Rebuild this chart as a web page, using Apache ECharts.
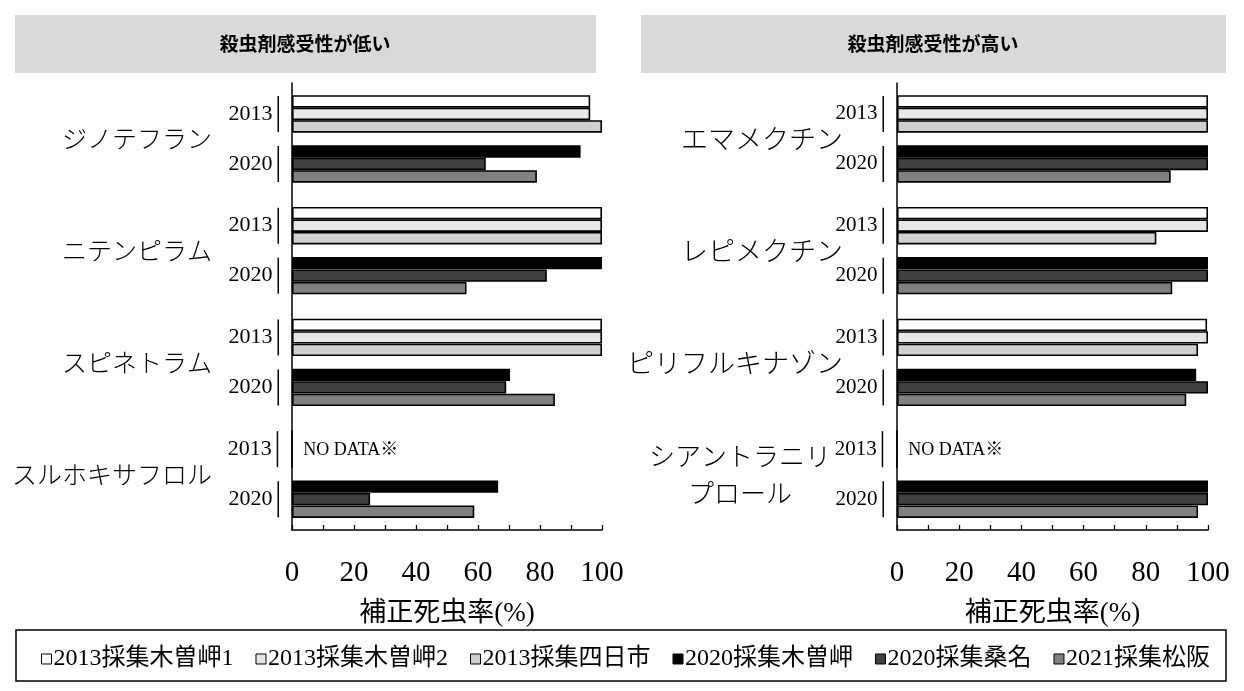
<!DOCTYPE html>
<html><head><meta charset="utf-8">
<script src="https://cdn.jsdelivr.net/npm/echarts@6/dist/echarts.min.js"></script>
<style>html,body{margin:0;padding:0;background:#fff}#c{width:1244px;height:691px}</style>
</head><body><div id="c"></div>
<script>
const panelTitles = ['殺虫剤感受性が低い', '殺虫剤感受性が高い'];
const drugsLow = ['ジノテフラン', 'ニテンピラム', 'スピネトラム', 'スルホキサフロル'];
const drugsHigh = ['エマメクチン', 'レピメクチン', 'ピリフルキナゾン', 'シアントラニリ\nプロール'];
const seriesNames = ['2013採集木曽岬1', '2013採集木曽岬2', '2013採集四日市', '2020採集木曽岬', '2020採集桑名', '2021採集松阪'];
const yearLabels = ['2013', '2020'];
const xTickLabels = [0, 20, 40, 60, 80, 100];
const noDataText = 'NO DATA※';
const axisTitle = '補正死虫率(%)';

// 殺虫剤感受性が低い
const low_kisozaki1_2013 = [96.2, 100, 100, null];
const low_kisozaki2_2013 = [96.2, 100, 100, null];
const low_yokkaichi_2013 = [100, 100, 100, null];
const low_kisozaki_2020 = [93.1, 100, 70.3, 66.5];
const low_kuwana_2020 = [62.5, 82.2, 69.1, 25.2];
const low_matsusaka_2021 = [79.0, 56.3, 84.8, 58.8];
// 殺虫剤感受性が高い
const high_kisozaki1_2013 = [100, 100, 99.7, null];
const high_kisozaki2_2013 = [100, 100, 100, null];
const high_yokkaichi_2013 = [100, 83.4, 96.8, null];
const high_kisozaki_2020 = [100, 100, 96.2, 100];
const high_kuwana_2020 = [100, 100, 100, 100];
const high_matsusaka_2021 = [88.0, 88.5, 93.0, 96.8];

const lowSeries = [low_kisozaki1_2013, low_kisozaki2_2013, low_yokkaichi_2013, low_kisozaki_2020, low_kuwana_2020, low_matsusaka_2021];
const highSeries = [high_kisozaki1_2013, high_kisozaki2_2013, high_yokkaichi_2013, high_kisozaki_2020, high_kuwana_2020, high_matsusaka_2021];

const colors = ['#ffffff', '#e6e6e6', '#d0d0d0', '#000000', '#404040', '#808080'];
const SERIF = "'Liberation Serif','Noto Sans CJK JP'";
const JP = "'Noto Sans CJK JP'";
const BW = 12.5;

function yearLabel(year, fs) {
  return {
    show: true, position: [-13, '50%'], align: 'right', verticalAlign: 'middle',
    formatter: '{y|' + year + '}{g|}{l|}',
    rich: {
      y: { fontFamily: SERIF, fontSize: fs, color: '#000' },
      g: { width: 5 },
      l: { width: 1.5, height: 36, backgroundColor: '#000' }
    }
  };
}

function buildSeries(arrs, gi, yfs) {
  const out = [];
  arrs.forEach((arr, si) => {
    if (si === 3) {
      out.push({ type: 'bar', name: '_gap' + gi, xAxisIndex: gi, yAxisIndex: gi, barWidth: BW, barGap: '0%', data: arr.map(() => null), silent: true });
    }
    const data = arr.map(v => {
      if (v === null) {
        const item = { value: 0 };
        if (si === 0) {
          item.label = { show: true, position: [12, '150%'], align: 'left', verticalAlign: 'middle', formatter: noDataText, fontFamily: SERIF, fontSize: 18, color: '#000', rich: {} };
        }
        return item;
      }
      return v;
    });
    const s = {
      type: 'bar', name: seriesNames[si], xAxisIndex: gi, yAxisIndex: gi,
      barWidth: BW, barGap: '0%',
      itemStyle: { color: colors[si], borderColor: '#000', borderWidth: 1.6 },
      data: data,
      animation: false
    };
    if (si === 1) s.label = yearLabel(yearLabels[0], yfs);
    else if (si === 4) s.label = yearLabel(yearLabels[1], yfs);
    else s.label = { show: false };
    out.push(s);
  });
  return out;
}

function xAxis(gi) {
  return {
    gridIndex: gi, type: 'value', min: 0, max: 100, interval: 10,
    axisLine: { show: true, lineStyle: { color: '#000', width: 1.5 } },
    axisTick: { show: true, inside: true, length: 5, lineStyle: { color: '#000', width: 1.3 } },
    splitLine: { show: false },
    axisLabel: { formatter: v => xTickLabels.includes(v) ? String(v) : '', fontFamily: SERIF, fontSize: 29, color: '#000', margin: 29 },
    name: axisTitle, nameLocation: 'middle', nameGap: 70,
    nameTextStyle: { fontFamily: SERIF, fontSize: 27, color: '#000' }
  };
}

function yAxis(gi, cats, margin, fs, cfs, cw) {
  return {
    gridIndex: gi, type: 'category', inverse: true, data: cats,
    axisLine: { show: true, lineStyle: { color: '#000', width: 1.5 } },
    axisTick: { show: false },
    axisLabel: {
      margin: margin, fontFamily: JP, fontSize: fs, fontWeight: 300, color: '#000', align: 'right',
      formatter: v => v.includes('\n') ? v.split('\n').map(s => '{c|' + s + '}{p|}').join('\n') : v,
      rich: {
        c: { width: cw, align: 'center', fontFamily: JP, fontSize: cfs, fontWeight: 300, lineHeight: 37, color: '#000' },
        p: { width: 10 }
      }
    }
  };
}

const chart = echarts.init(document.getElementById('c'));
chart.setOption({
  animation: false,
  backgroundColor: '#fff',
  grid: [
    { left: 292, right: 642, top: 83, bottom: 161 },
    { left: 897, right: 36, top: 83, bottom: 161 }
  ],
  xAxis: [xAxis(0), xAxis(1)],
  yAxis: [yAxis(0, drugsLow, 80, 25, 25, 200), yAxis(1, drugsHigh, 54, 27, 26, 186)],
  legend: {
    data: seriesNames, left: 36, top: 642, icon: 'rect', itemWidth: 10, itemHeight: 10, itemGap: 22,
    textStyle: { fontFamily: SERIF, fontSize: 24, color: '#000', padding: [0, 0, 0, -3] },
    itemStyle: { borderColor: '#000', borderWidth: 1 }
  },
  graphic: [
    { type: 'rect', shape: { x: 15, y: 15, width: 581, height: 58 }, style: { fill: '#d9d9d9' } },
    { type: 'rect', shape: { x: 641, y: 15, width: 585, height: 58 }, style: { fill: '#d9d9d9' } },
    { type: 'text', x: 305, y: 44, style: { text: panelTitles[0], fill: '#000', font: 'bold 19px ' + JP, textAlign: 'center', textVerticalAlign: 'middle' } },
    { type: 'text', x: 933, y: 44, style: { text: panelTitles[1], fill: '#000', font: 'bold 19px ' + JP, textAlign: 'center', textVerticalAlign: 'middle' } },
    { type: 'rect', shape: { x: 16, y: 630, width: 1210, height: 51 }, style: { fill: 'none', stroke: '#000', lineWidth: 1.5 } }
  ],
  series: buildSeries(lowSeries, 0, 22).concat(buildSeries(highSeries, 1, 21))
});
</script>
</body></html>
